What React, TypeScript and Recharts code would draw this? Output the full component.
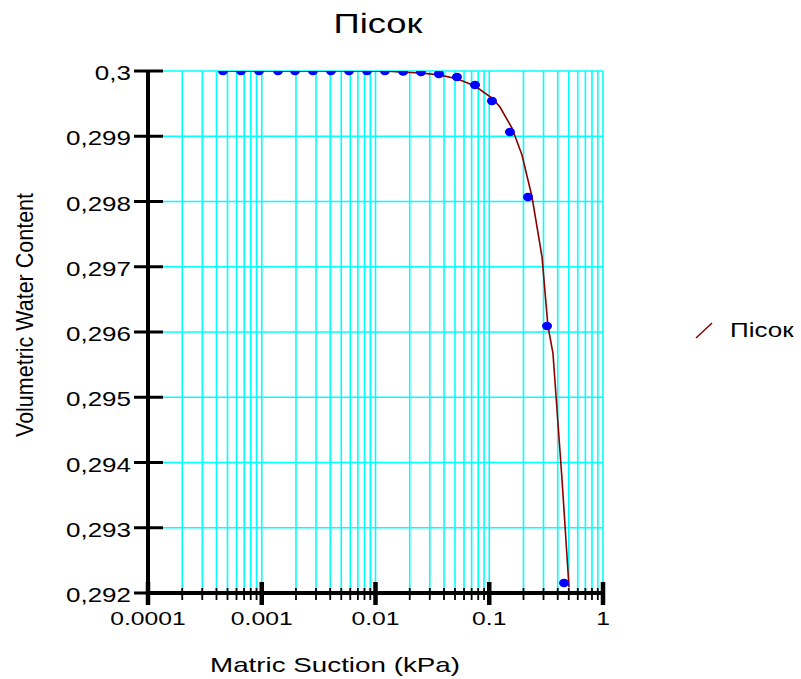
import React from 'react';
import { ScatterChart, Scatter, XAxis, YAxis, CartesianGrid } from 'recharts';

const chartTitle = 'Пісок';
const seriesName = 'Пісок';
const xAxisTitle = 'Matric Suction (kPa)';
const yAxisTitle = 'Volumetric Water Content';

// measured points
const suction = [0.000456, 0.000657, 0.000946, 0.00139, 0.00196, 0.00282, 0.00406, 0.00585, 0.00842, 0.0121, 0.0175, 0.0251, 0.0361, 0.052, 0.075, 0.1057, 0.152, 0.219, 0.322, 0.454];
const waterContent = [0.3, 0.3, 0.3, 0.3, 0.3, 0.3, 0.3, 0.3, 0.3, 0.3, 0.29999, 0.299985, 0.299954, 0.299908, 0.299785, 0.29954, 0.299065, 0.298069, 0.296092, 0.292153];

// fitted curve
const fitSuction = [0.000456, 0.0121, 0.0175, 0.0251, 0.0361, 0.052, 0.075, 0.1057, 0.1243, 0.1585, 0.194, 0.2377, 0.291, 0.328, 0.363, 0.4365, 0.5024];
const fitWater = [0.3, 0.3, 0.29998, 0.29997, 0.29994, 0.29988, 0.29977, 0.299586, 0.299448, 0.299126, 0.298713, 0.298069, 0.29715, 0.296092, 0.295678, 0.293732, 0.292092];

const yTicks = [0.292, 0.293, 0.294, 0.295, 0.296, 0.297, 0.298, 0.299, 0.3];
const xMajorTicks = [0.0001, 0.001, 0.01, 0.1, 1];
const xTickLabels = ['0.0001', '0.001', '0.01', '0.1', '1'];
const minorMultipliers = [1, 2, 3, 4, 5, 6, 7, 8, 9];

const xTicks: number[] = [];
xMajorTicks.slice(0, -1).forEach((d) => minorMultipliers.forEach((m) => xTicks.push(m * d)));
xTicks.push(1);

const points = suction.map((x, i) => ({ x, y: waterContent[i] }));
const fit = fitSuction.map((x, i) => ({ x, y: fitWater[i] }));

const FONT = '"Liberation Sans", Arial, sans-serif';

const SText = (p: { x: number; y: number; size: number; anchor?: string; sx?: number; children: React.ReactNode }) => (
  <text
    transform={`translate(${p.x},${p.y}) scale(${p.sx ?? 1.3},1)`}
    textAnchor={p.anchor ?? 'start'}
    fontSize={p.size}
    fontFamily={FONT}
    fill="#000"
  >
    {p.children}
  </text>
);

const majorIndex = (v: number) => xMajorTicks.findIndex((m) => Math.abs(Math.log10(v) - Math.log10(m)) < 1e-6);

const XTick = (props: any) => {
  const { x, y, payload } = props;
  const idx = majorIndex(payload.value);
  if (idx >= 0) {
    return (
      <g>
        <line x1={x} x2={x} y1={y - 11} y2={y + 12} stroke="#000" strokeWidth={4.5} />
        <SText x={x} y={y + 32} size={19} anchor="middle">
          {xTickLabels[idx]}
        </SText>
      </g>
    );
  }
  return <line x1={x} x2={x} y1={y - 5} y2={y + 7} stroke="#000" strokeWidth={1.8} />;
};

const fmtY = (v: number) => String(parseFloat(v.toFixed(3))).replace('.', ',');

const YTick = (props: any) => {
  const { x, y, payload } = props;
  return (
    <g>
      <line x1={x - 14} x2={x + 15} y1={y} y2={y} stroke="#000" strokeWidth={3} />
      <SText x={x - 17} y={y + 9} size={20} anchor="end">
        {fmtY(payload.value)}
      </SText>
    </g>
  );
};

const Dot = (props: any) => {
  const { cx, cy } = props;
  return <ellipse cx={cx} cy={cy} rx={5} ry={4.2} fill="#0000FF" />;
};

const NoShape = () => <g />;

export default function App() {
  return (
    <div style={{ position: 'absolute', left: 0, top: 0, width: 801, height: 679, background: '#fff' }}>
      <ScatterChart
        width={801}
        height={679}
        margin={{ top: 71, right: 198, bottom: 46, left: 68 }}
      >
        <CartesianGrid stroke="#00FFFF" strokeWidth={1.6} />
        <XAxis
          type="number"
          dataKey="x"
          scale="log"
          domain={[0.0001, 1]}
          ticks={xTicks}
          interval={0}
          height={40}
          tickSize={0}
          tickMargin={0}
          tick={<XTick />}
          axisLine={{ stroke: '#000', strokeWidth: 4 }}
          tickLine={false}
          allowDataOverflow
        />
        <YAxis
          type="number"
          dataKey="y"
          domain={[0.292, 0.3]}
          ticks={yTicks}
          interval={0}
          width={80}
          tickSize={0}
          tickMargin={0}
          tick={<YTick />}
          axisLine={{ stroke: '#000', strokeWidth: 4 }}
          tickLine={false}
          allowDataOverflow
        />
        <Scatter
          name={seriesName}
          data={fit}
          line={{ stroke: '#8B0000', strokeWidth: 1.6 }}
          lineType="joint"
          shape={<NoShape />}
          isAnimationActive={false}
        />
        <Scatter data={points} shape={<Dot />} isAnimationActive={false} />
      </ScatterChart>
      <svg width={801} height={679} style={{ position: 'absolute', left: 0, top: 0, pointerEvents: 'none' }}>
        <SText x={378} y={33} size={28} anchor="middle">
          {chartTitle}
        </SText>
        <text x={210} y={672} textLength={250} lengthAdjust="spacingAndGlyphs" fontSize={21} fontFamily={FONT} fill="#000">
          {xAxisTitle}
        </text>
        <g transform="translate(33,437) rotate(-90)">
          <text x={0} y={0} textLength={244} lengthAdjust="spacingAndGlyphs" fontSize={24} fontFamily={FONT} fill="#000">
            {yAxisTitle}
          </text>
        </g>
        <line x1={696} y1={338} x2={712} y2={323} stroke="#8B0000" strokeWidth={1.5} />
        <SText x={730} y={337} size={20}>
          {seriesName}
        </SText>
      </svg>
    </div>
  );
}
